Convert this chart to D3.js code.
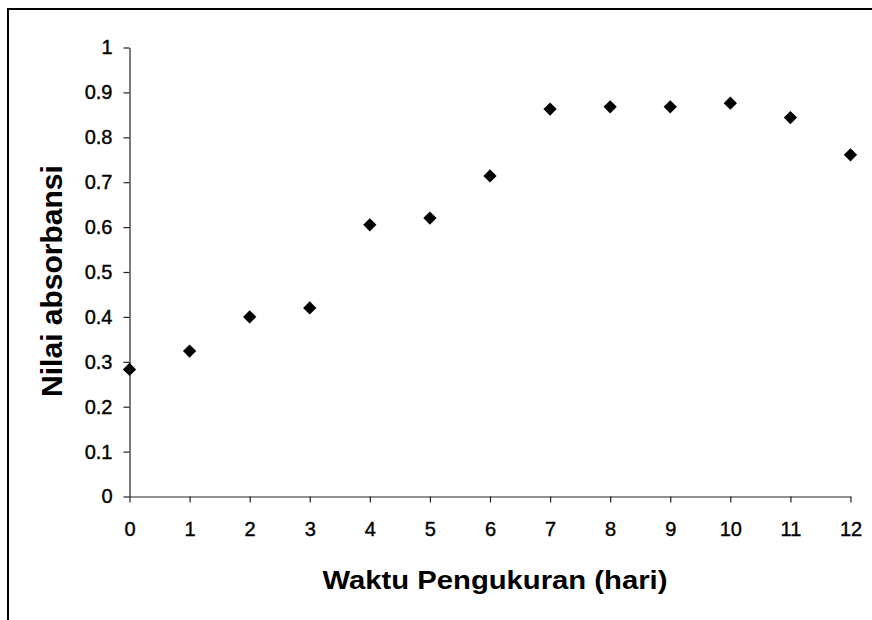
<!DOCTYPE html>
<html>
<head>
<meta charset="utf-8">
<script src="https://cdn.jsdelivr.net/npm/d3@7"></script>
<style>
  html, body { margin: 0; padding: 0; background: #fff; }
  svg { display: block; }
  text { font-family: "Liberation Sans", Arial, sans-serif; fill: #000; }
</style>
</head>
<body>
<svg id="chart" width="872" height="620"></svg>
<script>
// Data
const days = [0, 1, 2, 3, 4, 5, 6, 7, 8, 9, 10, 11, 12];
const absorbance = [0.283, 0.324, 0.400, 0.420, 0.605, 0.620, 0.714, 0.863, 0.868, 0.868, 0.876, 0.844, 0.761];
const xTicks = [0, 1, 2, 3, 4, 5, 6, 7, 8, 9, 10, 11, 12];
const yTicks = [0, 0.1, 0.2, 0.3, 0.4, 0.5, 0.6, 0.7, 0.8, 0.9, 1];
const xTitle = "Waktu Pengukuran (hari)";
const yTitle = "Nilai absorbansi";

const svg = d3.select("#chart");

// outer frame (extends beyond the visible picture at right and bottom)
svg.append("rect")
  .attr("x", 8).attr("y", 9)
  .attr("width", 900).attr("height", 700)
  .attr("fill", "none").attr("stroke", "#000").attr("stroke-width", 2);

const x = d3.scaleLinear().domain([0, 12]).range([129.5, 850.5]);
const y = d3.scaleLinear().domain([0, 1]).range([496.5, 47.5]);

// X axis
const xAxis = svg.append("g")
  .attr("transform", `translate(0,${y(0)})`)
  .call(d3.axisBottom(x).tickValues(xTicks).tickFormat(d3.format("d")).tickSizeInner(6).tickSizeOuter(0).tickPadding(19));
xAxis.selectAll("path, line").attr("stroke", "#222").attr("stroke-width", 1.2);
xAxis.selectAll("text")
  .attr("font-size", 20).attr("font-family", "Liberation Sans, Arial, sans-serif")
  .attr("fill", "#000").attr("stroke", "#000").attr("stroke-width", 0.4);

// Y axis
const yAxis = svg.append("g")
  .attr("transform", `translate(${x(0)},0)`)
  .call(d3.axisLeft(y).tickValues(yTicks).tickFormat(d => d === 0 ? "0" : d === 1 ? "1" : d3.format(".1f")(d)).tickSizeInner(6).tickSizeOuter(0).tickPadding(11));
yAxis.selectAll("path, line").attr("stroke", "#222").attr("stroke-width", 1.2);
yAxis.selectAll("text")
  .attr("font-size", 20).attr("font-family", "Liberation Sans, Arial, sans-serif")
  .attr("fill", "#000").attr("stroke", "#000").attr("stroke-width", 0.4);

// markers
const diamond = d3.symbol().type(d3.symbolSquare).size(88);
svg.append("g").selectAll("path")
  .data(days.map((d, i) => ({ d, v: absorbance[i] })))
  .join("path")
  .attr("d", diamond)
  .attr("transform", p => `translate(${x(p.d)},${y(p.v)}) rotate(45)`)
  .attr("fill", "#000");

// titles
svg.append("text")
  .attr("transform", `translate(495,589) scale(1.17,1)`)
  .attr("text-anchor", "middle")
  .attr("font-size", 25).attr("font-weight", "bold")
  .text(xTitle);

svg.append("text")
  .attr("transform", `translate(62,281) rotate(-90)`)
  .attr("text-anchor", "middle")
  .attr("font-size", 30).attr("font-weight", "bold")
  .text(yTitle);
</script>
</body>
</html>
